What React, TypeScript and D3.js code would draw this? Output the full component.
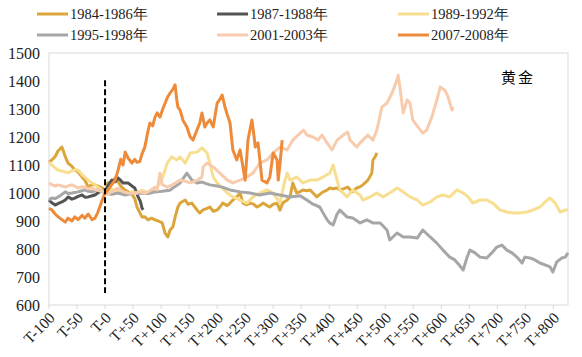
import React from "react";
import * as d3 from "d3";

const W = 582;
const H = 357;

const xTickValues = [-100, -50, 0, 50, 100, 150, 200, 250, 300, 350, 400, 450, 500, 550, 600, 650, 700, 750, 800];
const xTickLabels = ["T-100", "T-50", "T-0", "T+50", "T+100", "T+150", "T+200", "T+250", "T+300", "T+350", "T+400", "T+450", "T+500", "T+550", "T+600", "T+650", "T+700", "T+750", "T+800"];
const yTicks = [600, 700, 800, 900, 1000, 1100, 1200, 1300, 1400, 1500];

const seriesNames = ["1984-1986年", "1987-1988年", "1989-1992年", "1995-1998年", "2001-2003年", "2007-2008年"];
const seriesColors = ["#DBA53B", "#545454", "#F7DE90", "#A6A6A6", "#F8CBAD", "#EE8B3A"];

const s1984: [number, number][] = [
  [-100, 1110], [-95, 1118], [-89, 1130], [-84, 1150], [-77, 1164], [-71, 1130], [-66, 1107], [-59, 1095], [-54, 1082], [-48, 1075],
  [-41, 1057], [-36, 1045], [-30, 1021], [-23, 1030], [-18, 1029], [-13, 1025], [-5, 1018], [0, 1000], [5, 1036], [12, 1040],
  [18, 1054], [23, 1040], [30, 1020], [36, 1010], [41, 1005], [48, 995], [53, 980], [57, 950], [62, 930], [66, 914],
  [71, 915], [77, 904], [83, 910], [89, 904], [95, 900], [102, 893], [107, 857], [112, 843], [116, 868], [121, 879],
  [125, 914], [130, 950], [134, 964], [143, 975], [148, 960], [155, 964], [160, 950], [166, 935], [169, 929], [175, 940],
  [182, 945], [187, 950], [193, 935], [200, 939], [205, 950], [210, 964], [218, 955], [223, 964], [228, 975], [235, 986],
  [241, 1000], [246, 964], [253, 958], [259, 964], [265, 960], [271, 950], [276, 955], [282, 964], [289, 955], [294, 950],
  [300, 960], [307, 964], [312, 939], [317, 964], [325, 975], [330, 986], [335, 1036], [342, 1000], [348, 1005], [353, 1011],
  [360, 1008], [366, 1011], [371, 1000], [378, 986], [383, 995], [389, 1004], [396, 1010], [401, 1018], [407, 1015], [414, 1018],
  [419, 1011], [425, 1015], [433, 1021], [441, 1004], [449, 1018], [455, 1022], [460, 1029], [469, 1046], [476, 1071], [478, 1118],
  [482, 1130], [485, 1143],
];

const s1987: [number, number][] = [
  [-100, 975], [-95, 965], [-89, 957], [-84, 962], [-77, 968], [-71, 975], [-66, 986], [-59, 978], [-54, 982], [-48, 988],
  [-41, 993], [-36, 985], [-30, 986], [-23, 990], [-18, 993], [-13, 1000], [-4, 1011], [0, 1000], [5, 1025], [12, 1046],
  [18, 1040], [23, 1054], [28, 1045], [32, 1036], [41, 1036], [48, 1025], [53, 1018], [59, 986], [63, 970], [66, 946], [68, 940],
];

const s1989: [number, number][] = [
  [-100, 1111], [-95, 1100], [-89, 1090], [-84, 1082], [-77, 1078], [-71, 1075], [-66, 1072], [-59, 1080], [-54, 1082], [-48, 1082],
  [-41, 1065], [-36, 1057], [-30, 1045], [-23, 1036], [-18, 1030], [-13, 1021], [-5, 1010], [0, 1000], [5, 1010], [12, 1015],
  [18, 1005], [23, 1010], [32, 1000], [41, 995], [48, 1005], [57, 1000], [66, 1010], [77, 1000], [85, 1005], [93, 1021],
  [103, 1057], [111, 1107], [119, 1129], [128, 1118], [134, 1129], [143, 1107], [152, 1143], [164, 1146], [173, 1161], [182, 1143],
  [187, 1107], [193, 1057], [200, 1036], [209, 1018], [218, 1000], [228, 986], [241, 975], [253, 964], [264, 986], [276, 1000],
  [289, 1011], [300, 1000], [312, 964], [321, 1046], [325, 1071], [330, 1046], [342, 1057], [353, 1036], [366, 1046], [378, 1046],
  [389, 1057], [401, 1071], [407, 1100], [412, 1060], [419, 1011], [432, 986], [442, 1011], [455, 993], [460, 975], [473, 986],
  [485, 1000], [496, 986], [508, 1000], [521, 1018], [532, 1004], [544, 986], [557, 975], [567, 957], [580, 968], [592, 986],
  [603, 993], [615, 986], [628, 1011], [639, 1000], [648, 986], [656, 964], [669, 975], [681, 975], [692, 964], [705, 939],
  [717, 932], [728, 929], [740, 929], [753, 932], [763, 939], [776, 950], [785, 968], [794, 982], [803, 964], [812, 932],
  [821, 939], [826, 939],
];

const s1995: [number, number][] = [
  [-100, 975], [-95, 982], [-89, 980], [-84, 986], [-77, 995], [-71, 1004], [-66, 998], [-59, 1000], [-54, 1002], [-48, 1004],
  [-41, 1008], [-36, 1011], [-30, 1006], [-23, 1004], [-18, 1008], [-13, 1011], [-5, 1005], [0, 1000], [12, 995], [23, 1000],
  [36, 993], [48, 998], [62, 1000], [77, 998], [89, 1004], [102, 1006], [116, 1010], [121, 1018], [134, 1036], [146, 1071],
  [155, 1046], [164, 1036], [173, 1039], [187, 1029], [200, 1025], [209, 1021], [223, 1011], [241, 1004], [259, 1000], [276, 993],
  [294, 1000], [312, 993], [330, 986], [348, 990], [360, 975], [371, 960], [383, 950], [389, 929], [396, 905], [401, 893],
  [407, 886], [414, 925], [419, 939], [432, 914], [442, 911], [455, 893], [467, 904], [478, 893], [491, 893], [503, 868],
  [508, 832], [521, 857], [532, 843], [544, 843], [557, 839], [567, 868], [580, 843], [592, 821], [603, 796], [615, 771],
  [624, 761], [633, 740], [639, 725], [646, 771], [651, 796], [660, 786], [669, 771], [681, 768], [690, 786], [699, 807],
  [708, 814], [717, 796], [726, 786], [735, 771], [744, 750], [749, 771], [758, 768], [767, 761], [776, 750], [785, 743],
  [794, 736], [799, 718], [806, 754], [815, 768], [821, 771], [826, 786],
];

const s2001: [number, number][] = [
  [-100, 1036], [-95, 1030], [-89, 1025], [-84, 1029], [-77, 1025], [-71, 1021], [-66, 1025], [-59, 1029], [-54, 1024], [-48, 1018],
  [-41, 1022], [-36, 1021], [-30, 1015], [-23, 1018], [-18, 1012], [-13, 1010], [-5, 1005], [0, 1000], [5, 995], [12, 1005],
  [23, 1018], [32, 1005], [41, 1000], [53, 998], [62, 1004], [71, 1000], [77, 1004], [89, 1021], [93, 1011], [98, 1071],
  [102, 1030], [111, 1021], [121, 1030], [134, 1046], [146, 1040], [152, 1036], [164, 1045], [173, 1057], [175, 1093], [182, 1107],
  [193, 1093], [200, 1080], [205, 1071], [218, 1046], [228, 1036], [241, 1046], [253, 1057], [264, 1071], [276, 1107], [289, 1118],
  [300, 1143], [312, 1164], [325, 1154], [335, 1189], [348, 1214], [354, 1225], [360, 1207], [371, 1200], [380, 1189], [387, 1207],
  [396, 1179], [405, 1154], [414, 1189], [425, 1207], [433, 1218], [437, 1189], [449, 1164], [455, 1179], [460, 1189], [469, 1207],
  [478, 1189], [485, 1225], [494, 1307], [503, 1321], [512, 1357], [521, 1404], [523, 1421], [526, 1379], [532, 1286], [539, 1332],
  [544, 1321], [549, 1261], [558, 1236], [567, 1214], [574, 1225], [583, 1271], [592, 1332], [598, 1379], [606, 1368], [612, 1343],
  [619, 1296], [621, 1307],
];

const s2007: [number, number][] = [
  [-100, 945], [-95, 940], [-89, 925], [-84, 915], [-77, 905], [-71, 896], [-66, 910], [-59, 900], [-54, 915], [-48, 905],
  [-41, 920], [-36, 910], [-30, 925], [-23, 905], [-18, 910], [-13, 930], [-5, 975], [0, 1000], [5, 1010], [12, 1030],
  [18, 1046], [23, 1080], [28, 1120], [32, 1100], [36, 1146], [41, 1125], [48, 1107], [53, 1120], [57, 1110], [62, 1112],
  [66, 1140], [71, 1164], [77, 1225], [80, 1250], [85, 1240], [89, 1270], [93, 1286], [98, 1271], [103, 1300], [111, 1340],
  [116, 1357], [121, 1370], [125, 1386], [128, 1332], [130, 1307], [134, 1296], [139, 1260], [146, 1236], [152, 1200], [157, 1189],
  [164, 1225], [169, 1250], [173, 1286], [178, 1236], [182, 1250], [187, 1261], [193, 1236], [200, 1321], [205, 1335], [209, 1350],
  [214, 1307], [218, 1280], [223, 1250], [228, 1154], [235, 1118], [241, 1154], [246, 1093], [250, 1046], [255, 1189], [262, 1261],
  [266, 1200], [268, 1164], [273, 1179], [280, 1046], [289, 1036], [294, 1057], [300, 1143], [307, 1118], [309, 1046], [312, 1100],
  [316, 1189],
];

const allSeries = [s1984, s1987, s1989, s1995, s2001, s2007];
const markerDay = 0;
const markerRange = [643, 1403];
const chartTitle = "黄金";

export default function App() {
  const left = 49, right = 568, top = 53, bottom = 305;
  const x = d3.scaleLinear().domain([-100, 826]).range([left, right]);
  const y = d3.scaleLinear().domain([600, 1500]).range([bottom, top]);
  const line = d3.line<[number, number]>().x((d) => x(d[0])).y((d) => y(d[1]));

  const legendCols = [37, 217, 398];
  const legendRows = [14, 35];
  const font = "'Liberation Serif', 'Times New Roman', serif";

  return (
    <svg width={W} height={H} style={{ position: "absolute", left: 0, top: 0, background: "#fff" }}>
      <rect x={0} y={0} width={W} height={H} fill="#fff" />
      <rect x={left} y={top} width={right - left} height={bottom - top} fill="none" stroke="#D9D9D9" strokeWidth={1} />
      {xTickValues.map((t) => (
        <line key={"t" + t} x1={x(t)} x2={x(t)} y1={bottom} y2={bottom + 4} stroke="#D9D9D9" strokeWidth={1} />
      ))}
      {yTicks.map((v) => (
        <text key={"y" + v} x={40} y={y(v)} dy="0.35em" textAnchor="end" fontFamily={font} fontSize={16} fill="#222">
          {v}
        </text>
      ))}
      {xTickValues.map((t, i) => (
        <text
          key={"xl" + t}
          transform={`translate(${x(t) + 3},${bottom + 10}) rotate(-45)`}
          dy="0.35em"
          textAnchor="end"
          fontFamily={font}
          fontSize={15.5}
          fill="#222"
        >
          {xTickLabels[i]}
        </text>
      ))}
      {allSeries.map((s, i) => (
        <path key={"s" + i} d={line(s) || ""} fill="none" stroke={seriesColors[i]} strokeWidth={3} strokeLinejoin="round" />
      ))}
      <line
        x1={x(markerDay)}
        x2={x(markerDay)}
        y1={y(markerRange[1])}
        y2={y(markerRange[0])}
        stroke="#000"
        strokeWidth={2}
        strokeDasharray="6,3"
      />
      <text x={518} y={78} dy="0.35em" textAnchor="middle" fontFamily="'Noto Sans CJK SC', sans-serif" fontSize={15} letterSpacing={2} fill="#000">
        {chartTitle}
      </text>
      {seriesNames.map((n, i) => {
        const cx = legendCols[i % 3];
        const cy = legendRows[Math.floor(i / 3)];
        return (
          <g key={"lg" + i}>
            <line x1={cx} x2={cx + 31} y1={cy} y2={cy} stroke={seriesColors[i]} strokeWidth={3} />
            <text x={cx + 33} y={cy} dy="0.35em" fontFamily={font} fontSize={14.5} fill="#222">
              {n}
            </text>
          </g>
        );
      })}
    </svg>
  );
}
